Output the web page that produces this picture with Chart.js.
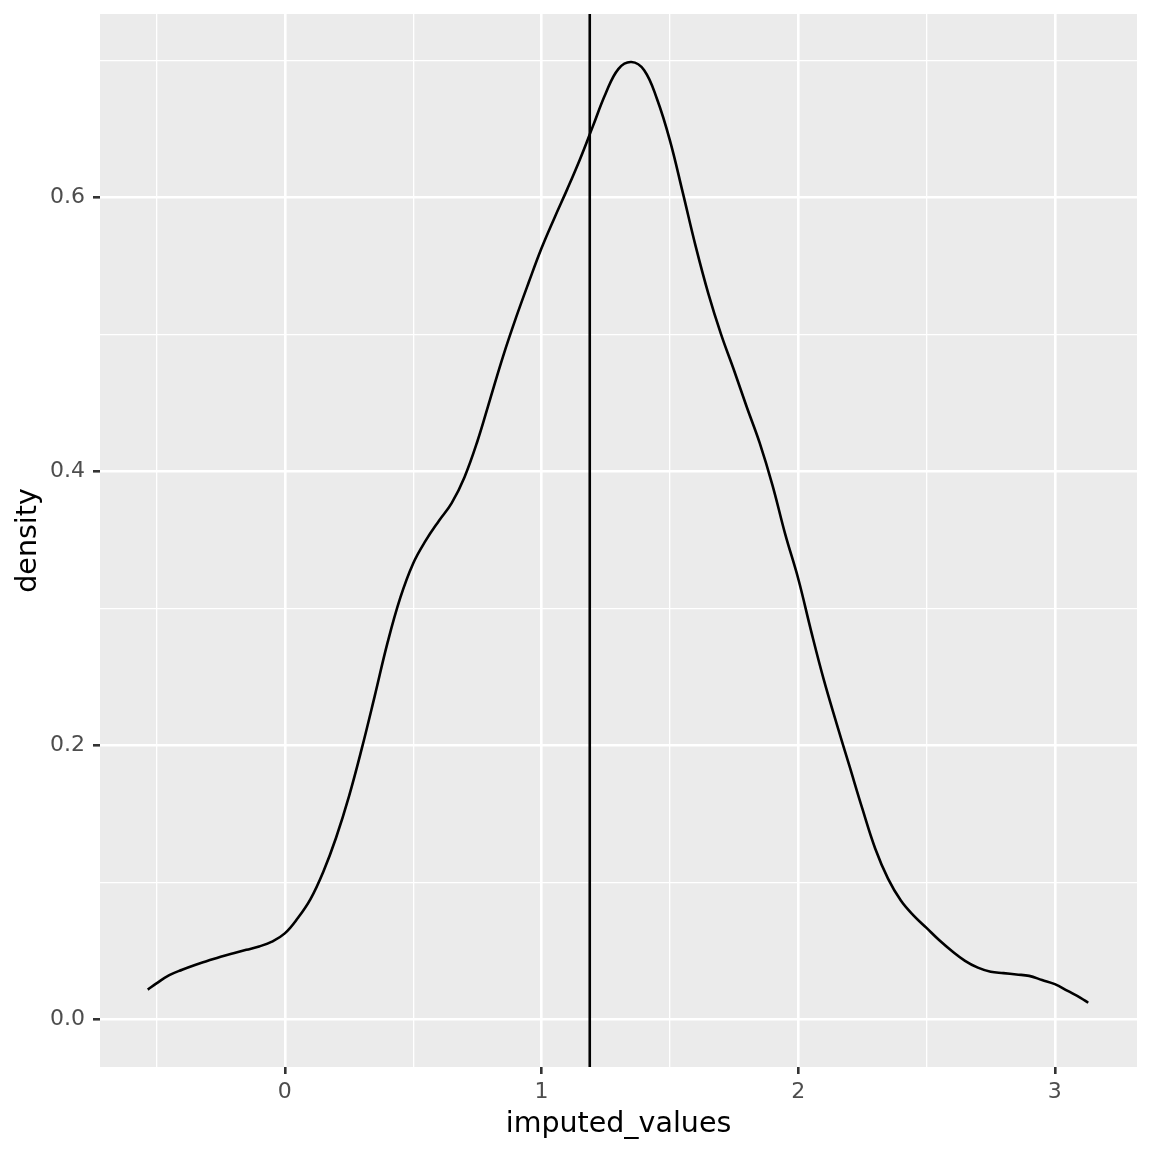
<!DOCTYPE html>
<html>
<head>
<meta charset="utf-8">
<script src="https://cdn.jsdelivr.net/npm/chart.js@4/dist/chart.umd.min.js"></script>
<style>
  html, body { margin: 0; padding: 0; background: #ffffff; }
  #chart { display: block; }
</style>
</head>
<body>
<canvas id="chart" width="1152" height="1152"></canvas>
<script>
// ---------- data ----------
const densityX = [-0.534, -0.5, -0.45, -0.4, -0.35, -0.3, -0.25, -0.2, -0.15, -0.1,
  -0.05, 0, 0.05, 0.1, 0.15, 0.2, 0.25, 0.3, 0.35, 0.4,
  0.45, 0.5, 0.55, 0.6, 0.65, 0.7, 0.75, 0.8, 0.85, 0.9,
  0.95, 1.0, 1.05, 1.1, 1.15, 1.2, 1.25, 1.3, 1.35, 1.4,
  1.45, 1.5, 1.55, 1.6, 1.65, 1.7, 1.75, 1.8, 1.85, 1.9,
  1.95, 2.0, 2.05, 2.1, 2.15, 2.2, 2.25, 2.3, 2.35, 2.4,
  2.45, 2.5, 2.55, 2.6, 2.65, 2.7, 2.75, 2.8, 2.85, 2.9,
  2.95, 3.0, 3.05, 3.1, 3.13];
const densityY = [0.022, 0.0265, 0.0325, 0.0365, 0.040, 0.043, 0.046, 0.0485, 0.051, 0.0535,
  0.057, 0.063, 0.074, 0.088, 0.108, 0.133, 0.163, 0.198, 0.236, 0.275,
  0.308, 0.333, 0.350, 0.364, 0.377, 0.396, 0.422, 0.453, 0.484, 0.512,
  0.538, 0.563, 0.585, 0.606, 0.628, 0.652, 0.676, 0.694, 0.699, 0.693,
  0.672, 0.642, 0.604, 0.565, 0.530, 0.500, 0.474, 0.447, 0.421, 0.390,
  0.354, 0.322, 0.284, 0.248, 0.216, 0.185, 0.154, 0.125, 0.103, 0.087,
  0.076, 0.067, 0.058, 0.050, 0.043, 0.038, 0.035, 0.034, 0.033, 0.032,
  0.029, 0.026, 0.021, 0.016, 0.0124];
const vlineX = 1.188;

// axis ranges and ticks (major ticks get labels, minor only a thin grid line)
const xRange = [-0.72, 3.32];
const yRange = [-0.0345, 0.734];
const xTicks = [-0.5, 0, 0.5, 1, 1.5, 2, 2.5, 3];
const xMajor = [0, 1, 2, 3];
const yTicks = [0, 0.1, 0.2, 0.3, 0.4, 0.5, 0.6, 0.7];
const yMajor = [0, 0.2, 0.4, 0.6];

const isMajor = (list, v) => list.some(m => Math.abs(m - v) < 1e-9);

const panelBg = {
  id: 'panelBg',
  beforeDraw(chart) {
    const { ctx, chartArea: a } = chart;
    ctx.save();
    ctx.fillStyle = '#EBEBEB';
    ctx.fillRect(a.left, a.top, a.right - a.left, a.bottom - a.top);
    ctx.restore();
  }
};

const gridFor = major => ({
  color: '#FFFFFF',
  lineWidth: c => isMajor(major, c.tick.value) ? 2.6 : 1.3,
  tickColor: c => isMajor(major, c.tick.value) ? '#333333' : 'rgba(0,0,0,0)',
  tickWidth: 2.6,
  tickLength: 7,
  drawTicks: true
});

new Chart(document.getElementById('chart'), {
  type: 'line',
  data: {
    datasets: [
      {
        data: densityX.map((x, i) => ({ x, y: densityY[i] })),
        borderColor: '#000000',
        borderWidth: 2.6,
        pointRadius: 0,
        tension: 0.4,
        fill: false
      },
      {
        data: [{ x: vlineX, y: yRange[0] }, { x: vlineX, y: yRange[1] }],
        borderColor: '#000000',
        borderWidth: 2.6,
        pointRadius: 0,
        fill: false
      }
    ]
  },
  options: {
    responsive: false,
    devicePixelRatio: 1,
    animation: false,
    layout: { padding: { top: 14, right: 15, left: 0, bottom: 0 } },
    plugins: { legend: { display: false }, tooltip: { enabled: false } },
    scales: {
      x: {
        type: 'linear',
        min: xRange[0],
        max: xRange[1],
        afterBuildTicks: s => { s.ticks = xTicks.map(v => ({ value: v })); },
        afterFit: s => { s.height = 85; s.paddingLeft = 0; s.paddingRight = 0; },
        border: { display: false },
        grid: gridFor(xMajor),
        ticks: {
          autoSkip: false,
          maxRotation: 0,
          padding: 5,
          color: '#4D4D4D',
          font: { family: 'DejaVu Sans', size: 22 },
          callback: v => isMajor(xMajor, v) ? String(v) : ''
        },
        title: {
          display: true,
          text: 'imputed_values',
          color: '#000000',
          font: { family: 'DejaVu Sans', size: 28.5 },
          padding: { top: 0, bottom: 10 }
        }
      },
      y: {
        type: 'linear',
        min: yRange[0],
        max: yRange[1],
        afterBuildTicks: s => { s.ticks = yTicks.map(v => ({ value: v })); },
        afterFit: s => { s.width = 100; s.paddingTop = 0; s.paddingBottom = 0; },
        border: { display: false },
        grid: gridFor(yMajor),
        ticks: {
          autoSkip: false,
          padding: 8,
          color: '#4D4D4D',
          font: { family: 'DejaVu Sans', size: 22 },
          callback: v => isMajor(yMajor, v) ? v.toFixed(1) : ''
        },
        title: {
          display: true,
          text: 'density',
          color: '#000000',
          font: { family: 'DejaVu Sans', size: 28.5 },
          padding: { top: 11, bottom: 0 }
        }
      }
    }
  },
  plugins: [panelBg]
});
</script>
</body>
</html>
